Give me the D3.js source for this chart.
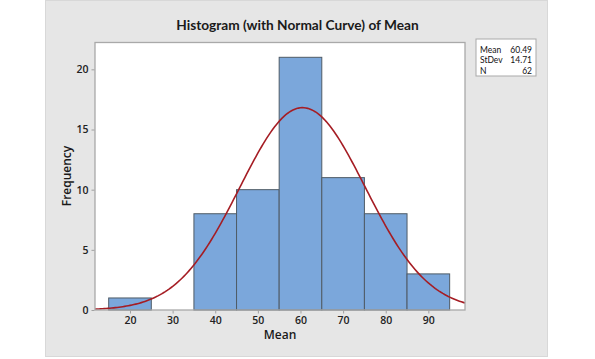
<!DOCTYPE html>
<html><head><meta charset="utf-8">
<script src="https://cdn.jsdelivr.net/npm/d3@7"></script>
<style>html,body{margin:0;padding:0;background:#fff;}svg{display:block;font-family:"Open Sans",sans-serif;}</style>
</head><body>
<svg id="c" width="595" height="359"></svg>
<script>
const binStarts = [15, 25, 35, 45, 55, 65, 75, 85];
const binWidth = 10;
const counts = [1, 0, 8, 10, 21, 11, 8, 3];
const xTicks = [20, 30, 40, 50, 60, 70, 80, 90];
const yTicks = [0, 5, 10, 15, 20];
const statLabels = ["Mean", "StDev", "N"];
const statValues = ["60.49", "14.71", "62"];
const meanVal = 60.49, sdVal = 14.71, nVal = 62;

const svg = d3.select("#c");
svg.append("rect").attr("x",45.5).attr("y",0.5).attr("width",502).attr("height",356)
  .attr("fill","#e6e6e6").attr("stroke","#d8d8d8").attr("stroke-width",1);

const L=95, R=465, T=42.5, B=310;
const x = d3.scaleLinear().domain([11.79, 98.6]).range([L, R]);
const y = d3.scaleLinear().domain([0, 22.23]).range([B, T]);

svg.append("rect").attr("x",L).attr("y",T).attr("width",R-L).attr("height",B-T).attr("fill","#fff");

const bars = binStarts.map((s,i)=>({s, c:counts[i]})).filter(d=>d.c>0);
svg.append("g").selectAll("rect").data(bars).join("rect")
  .attr("x",d=>x(d.s)).attr("width",d=>x(d.s+binWidth)-x(d.s))
  .attr("y",d=>y(d.c)).attr("height",d=>y(0)-y(d.c))
  .attr("fill","#7ba7db").attr("stroke","#4f5b66").attr("stroke-width",1);

// normal curve from the displayed statistics
const xs = d3.range(0, 201).map(i => 11.79 + (98.6-11.79)*i/200);
const dens = v => nVal*binWidth/(sdVal*Math.sqrt(2*Math.PI))*Math.exp(-0.5*((v-meanVal)/sdVal)**2);
svg.append("path").datum(xs)
  .attr("d", d3.line().x(v=>x(v)).y(v=>y(dens(v))))
  .attr("fill","none").attr("stroke","#a51d24").attr("stroke-width",1.6);

svg.append("rect").attr("x",L).attr("y",T).attr("width",R-L).attr("height",B-T)
  .attr("fill","none").attr("stroke","#a9a9a9").attr("stroke-width",1.3);

const xAxis = svg.append("g").attr("transform",`translate(0,${B+0.5})`)
  .call(d3.axisBottom(x).tickValues(xTicks).tickSize(3).tickPadding(3));
const yAxis = svg.append("g").attr("transform",`translate(${L-0.5},0)`)
  .call(d3.axisLeft(y).tickValues(yTicks).tickSize(3).tickPadding(3));
[xAxis,yAxis].forEach(a=>{
  a.select(".domain").remove();
  a.selectAll(".tick line").attr("stroke","#a0a0a0");
  a.selectAll(".tick text").attr("fill","#222").attr("font-size",10.5).attr("font-weight",600)
   .attr("font-family","'Open Sans',sans-serif");
});

svg.append("text").attr("x",297.5).attr("y",30).attr("text-anchor","middle")
  .attr("font-family","Lato,sans-serif")
  .attr("font-size",13.7).attr("font-weight",700).attr("fill","#1a1a1a")
  .text("Histogram (with Normal Curve) of Mean");
svg.append("text").attr("x",280).attr("y",339).attr("text-anchor","middle")
  .attr("font-size",12).attr("font-weight",600).attr("fill","#1a1a1a").text("Mean");
svg.append("text").attr("transform","translate(71,176) rotate(-90)").attr("text-anchor","middle")
  .attr("font-size",12).attr("font-weight",600).attr("fill","#1a1a1a").text("Frequency");

const bx=476, by=39;
svg.append("rect").attr("x",bx).attr("y",by).attr("width",60).attr("height",37)
  .attr("fill","#fff").attr("stroke","#a9a9a9").attr("stroke-width",1);
statLabels.forEach((lab,i)=>{
  svg.append("text").attr("x",bx+4).attr("y",by+14+i*10.3).attr("font-family","Lato,sans-serif")
    .attr("font-size",8.5).attr("fill","#111").text(lab);
  svg.append("text").attr("x",bx+56).attr("y",by+14+i*10.3).attr("text-anchor","end").attr("font-family","Lato,sans-serif")
    .attr("font-size",8.5).attr("fill","#111").text(statValues[i]);
});
</script>
</body></html>
